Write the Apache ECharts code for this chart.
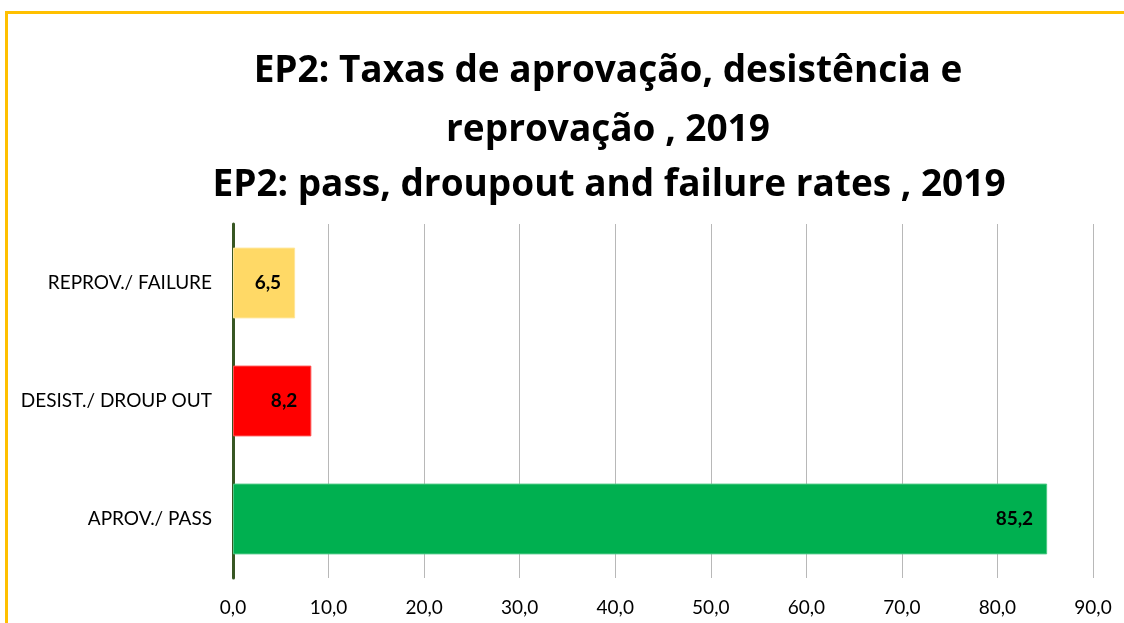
<!DOCTYPE html>
<html>
<head>
    <meta charset="utf-8">
    <title>EP2 pass, dropout and failure rates 2019</title>
    <script src="https://cdn.jsdelivr.net/npm/echarts@6/dist/echarts.min.js"></script>
    <style>
        html, body { margin: 0; padding: 0; background: #fff; }
        #main { width: 1124px; height: 623px; }
    </style>
</head>
<body>
    <div id="main"></div>
    <script>
        // dados
        var categories = ['APROV./ PASS', 'DESIST./ DROUP OUT', 'REPROV./ FAILURE'];
        var rates = [85.2, 8.2, 6.5];
        var barColors = ['#00B050', '#FF0000', '#FFD966'];
        var borderColors = ['#4CC884', '#FF5050', '#FFE699'];

        var myChart = echarts.init(document.getElementById('main'));

        var fmt = function (v) { return v.toFixed(1).replace('.', ','); };

        var titleStyle = {
            fontFamily: 'Open Sans',
            fontWeight: 'bold',
            fontSize: 37,
            color: '#000'
        };

        var option = {
            textStyle: { fontFamily: 'Lato' },
            graphic: [{
                type: 'rect',
                shape: { x: 6.5, y: 12.5, width: 1300, height: 800 },
                style: { fill: 'none', stroke: '#FFC000', lineWidth: 3 },
                silent: true
            }],
            title: [{
                text: 'EP2: Taxas de aprovação, desistência e\nreprovação , 2019',
                left: 603,
                textAlign: 'center',
                top: 37,
                textStyle: Object.assign({ lineHeight: 59 }, titleStyle)
            }, {
                text: 'EP2: pass, droupout and failure rates , 2019',
                left: 604,
                textAlign: 'center',
                top: 160,
                textStyle: Object.assign({ lineHeight: 40 }, titleStyle)
            }],
            grid: {
                left: 233,
                right: 31,
                top: 224,
                bottom: 45,
                containLabel: false
            },
            xAxis: {
                type: 'value',
                min: 0,
                max: 90,
                interval: 10,
                axisLine: { show: false },
                axisTick: { show: false },
                splitLine: { lineStyle: { color: '#B8B8B8', width: 1 } },
                axisLabel: {
                    formatter: function (v) { return fmt(v); },
                    fontSize: 19,
                    color: '#000',
                    margin: 20
                }
            },
            yAxis: {
                type: 'category',
                data: categories,
                axisLine: { lineStyle: { color: '#385723', width: 3 } },
                axisTick: { show: false },
                axisLabel: {
                    fontSize: 19,
                    color: '#000',
                    margin: 21
                }
            },
            series: [{
                type: 'bar',
                barCategoryGap: '40%',
                data: rates.map(function (v, i) {
                    return {
                        value: v,
                        itemStyle: { color: barColors[i], borderColor: borderColors[i], borderWidth: 1 }
                    };
                }),
                label: {
                    show: true,
                    position: 'insideRight',
                    distance: 14,
                    formatter: function (p) { return fmt(p.value); },
                    fontSize: 19,
                    fontWeight: 'bold',
                    color: '#000'
                }
            }]
        };

        option && myChart.setOption(option);

        window.onresize = function () {
            myChart.resize();
        };
    </script>
</body>
</html>
